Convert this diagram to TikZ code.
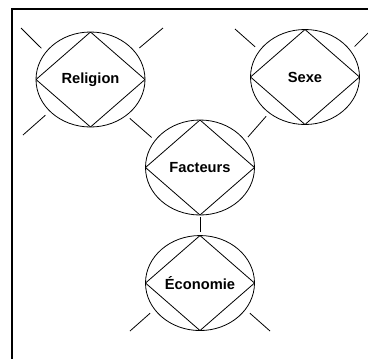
\documentclass[tikz,border=0pt]{standalone}
\usepackage{fontspec}
\setmainfont{Liberation Sans}
\usetikzlibrary{shapes.geometric,positioning}

\begin{document}
\begin{tikzpicture}[
        x=0.75pt, y=-0.75pt,
        every node/.style={font=\fontsize{11}{13}\selectfont\bfseries},
        topic/.style={draw, ellipse, line width=0.6pt, inner sep=0pt, outer sep=0pt,
            minimum width=81.75pt, minimum height=71.25pt,
            path picture={\draw[line width=0.6pt] (path picture bounding box.north) -- (path picture bounding box.east)
                -- (path picture bounding box.south) -- (path picture bounding box.west) -- cycle;}},
        link/.style={line width=0.6pt, shorten <=3.5pt, shorten >=3.5pt},
        ray/.style={line width=0.6pt, shorten <=4.5pt}
    ]
        \useasboundingbox (0,0) rectangle (368,358);
        % Frame
        \draw[line width=0.8pt] (400,9) -- (12,9) -- (12,400);

        % Topics
        \node[topic] (religion) at (90.5,79.5) {Religion};
        \node[topic] (sexe) at (305,77) {Sexe};
        \node[topic] (facteurs) at (200,167.5) {Facteurs};
        \node[topic, below=15.4pt of facteurs] (economie) {Économie};

        % Free ends of the rays
        \coordinate (religion-ul) at (21,28);
        \coordinate (religion-ur) at (163,28);
        \coordinate (religion-ll) at (23,135);
        \coordinate (sexe-ul) at (235,29);
        \coordinate (sexe-ur) at (376,25);
        \coordinate (economie-ll) at (130,331);
        \coordinate (economie-lr) at (270,331);

        % Links
        \draw[link] (religion.-45) -- (facteurs.149);
        \draw[link] (sexe.225) -- (facteurs.31);
        \draw[link, shorten <=1.5pt, shorten >=3pt] (facteurs) -- (economie);

        % Rays
        \draw[ray] (religion.149) -- (religion-ul);
        \draw[ray] (religion.32) -- (religion-ur);
        \draw[ray] (religion.218) -- (religion-ll);
        \draw[ray] (sexe.150) -- (sexe-ul);
        \draw[ray] (sexe.30) -- (sexe-ur);
        \draw[ray] (economie.210) -- (economie-ll);
        \draw[ray] (economie.330) -- (economie-lr);
    \end{tikzpicture}
\end{document}
